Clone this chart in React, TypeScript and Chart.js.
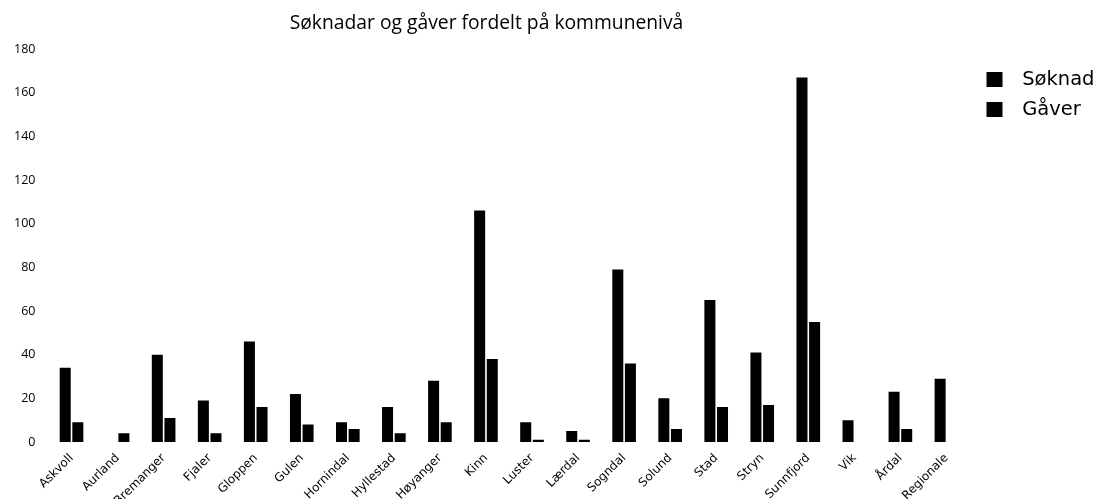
import React, { useEffect, useRef } from "react";
import { Chart, registerables } from "chart.js";

Chart.register(...registerables);

const chartTitle = "Søknadar og gåver fordelt på kommunenivå";
const categories = [
  "Askvoll", "Aurland", "Bremanger", "Fjaler", "Gloppen", "Gulen", "Hornindal",
  "Hyllestad", "Høyanger", "Kinn", "Luster", "Lærdal", "Sogndal", "Solund",
  "Stad", "Stryn", "Sunnfjord", "Vik", "Årdal", "Regionale",
];
const soknadValues = [34, 0, 40, 19, 46, 22, 9, 16, 28, 106, 9, 5, 79, 20, 65, 41, 167, 10, 23, 29];
const gaverValues = [9, 4, 11, 4, 16, 8, 6, 4, 9, 38, 1, 1, 36, 6, 16, 17, 55, 0, 6, 0];
const seriesNames = ["Søknad", "Gåver"];
const seriesColors = ["#000000", "#000000"];
const yMax = 180;
const yStep = 20;

const titlePlugin = {
  id: "customTitle",
  afterDraw(chart: any) {
    const { ctx } = chart;
    ctx.save();
    ctx.font = "19.3px 'Open Sans'";
    ctx.fillStyle = "#000";
    ctx.textAlign = "center";
    ctx.textBaseline = "alphabetic";
    ctx.fillText(chartTitle, 478.5, 21);
    ctx.restore();
  },
};

function makeLegendSquare(color: string) {
  const c = document.createElement("canvas");
  c.width = 32;
  c.height = 15;
  const g = c.getContext("2d");
  if (g) {
    g.fillStyle = color;
    g.fillRect(6, 0, 16, 15);
  }
  return c;
}

export default function App() {
  const ref = useRef<HTMLCanvasElement | null>(null);
  useEffect(() => {
    if (!ref.current) return;
    const square = makeLegendSquare(seriesColors[0]);
    const chart = new Chart(ref.current, {
      type: "bar",
      data: {
        labels: categories,
        datasets: [
          { label: seriesNames[0], data: soknadValues, backgroundColor: seriesColors[0], borderWidth: 0 },
          { label: seriesNames[1], data: gaverValues, backgroundColor: seriesColors[1], borderWidth: 0 },
        ],
      },
      plugins: [titlePlugin],
      options: {
        responsive: false,
        animation: false,
        layout: { padding: { top: 41, left: 0, right: 2.5, bottom: 0 } },
        datasets: { bar: { categoryPercentage: 0.548, barPercentage: 0.873 } },
        plugins: {
          title: { display: false },
          tooltip: { enabled: false },
          legend: {
            position: "right",
            align: "start",
            title: { display: true, text: " ", font: { size: 1 }, padding: { top: 8.5, bottom: 0 } },
            labels: {
              usePointStyle: true,
              pointStyle: square,
              pointStyleWidth: 32,
              boxHeight: 15,
              padding: 11,
              color: "#000",
              font: { family: "'DejaVu Sans'", size: 19.5 },
            },
          },
        },
        scales: {
          x: {
            grid: { display: false, drawTicks: false },
            border: { display: false },
            ticks: {
              color: "#000",
              font: { family: "'DejaVu Sans'", size: 12 },
              minRotation: 45,
              maxRotation: 45,
              autoSkip: false,
              padding: 9,
            },
            afterFit: (scale: any) => {
              scale.height = 60;
            },
          },
          y: {
            min: 0,
            max: yMax,
            grid: { display: false, drawTicks: false },
            border: { display: false },
            ticks: {
              stepSize: yStep,
              color: "#000",
              font: { family: "'Open Sans'", size: 12.5 },
              padding: 13,
            },
            afterFit: (scale: any) => {
              scale.width = 40.5;
            },
          },
        },
      },
    });
    return () => chart.destroy();
  }, []);
  return (
    <div style={{ position: "fixed", inset: 0, overflow: "hidden", background: "#fff" }}>
      <canvas
        ref={ref}
        width={1099}
        height={494}
        style={{ position: "absolute", left: 8, top: 8, width: 1099, height: 494 }}
      />
    </div>
  );
}
